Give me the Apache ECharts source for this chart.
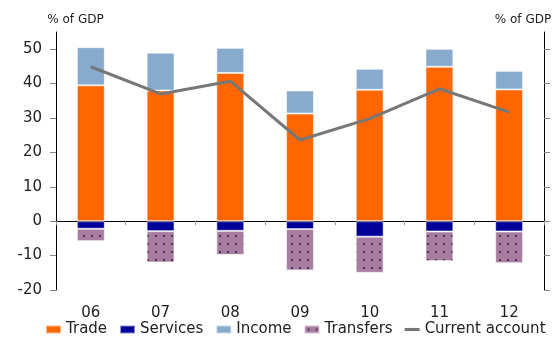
<!DOCTYPE html>
<html>
<head>
<meta charset="utf-8">
<script src="https://cdn.jsdelivr.net/npm/echarts@6/dist/echarts.min.js"></script>
<style>
  html, body { margin: 0; padding: 0; background: #fff; }
  #chart { width: 553px; height: 337px; }
</style>
</head>
<body>
<div id="chart"></div>
<script>
// current account components, % of GDP
const categories = ['06', '07', '08', '09', '10', '11', '12']
const trade = [39.5, 38.0, 43.1, 31.3, 38.2, 44.9, 38.3]
const services = [-2.2, -2.9, -2.8, -2.3, -4.5, -3.0, -3.0]
const income = [11.1, 11.0, 7.3, 6.7, 6.1, 5.2, 5.4]
const transfers = [-3.6, -9.1, -7.0, -12.0, -10.5, -8.6, -9.2]
const currentAccount = [44.9, 37.0, 40.7, 23.6, 29.8, 38.5, 31.7]
const yTicks = [-20, -10, 0, 10, 20, 30, 40, 50]

const FONT = 'DejaVu Sans'

// dotted fill for the transfers bars
function dotPattern() {
    const c = document.createElement('canvas')
    c.width = 8
    c.height = 8
    const ctx = c.getContext('2d')
    ctx.fillStyle = '#a87ca0'
    ctx.fillRect(0, 0, 8, 8)
    ctx.fillStyle = '#2b2233'
    ctx.beginPath()
    ctx.arc(4, 4, 1, 0, Math.PI * 2)
    ctx.fill()
    return c
}

const barBorder = { borderColor: 'rgba(255,255,255,0.55)', borderWidth: 1 }

function yAxis(position) {
    const left = position === 'left'
    return {
        type: 'value',
        position: position,
        min: -20,
        max: 55,
        interval: 10,
        name: '% of GDP',
        nameLocation: 'end',
        nameGap: 6,
        nameTextStyle: {
            fontFamily: FONT, fontSize: 12, color: '#222',
            padding: left ? [0, 0, 0, 39] : [0, 42, 0, 0]
        },
        axisLine: { show: true, lineStyle: { color: '#000', width: 1 } },
        axisTick: { show: true, length: 6, customValues: yTicks, lineStyle: { color: '#888' } },
        axisLabel: {
            show: left, customValues: yTicks, margin: 14,
            fontFamily: FONT, fontSize: 15, color: '#222'
        },
        splitLine: { show: false }
    }
}

const chart = echarts.init(document.getElementById('chart'))
chart.setOption({
    animation: false,
    grid: { left: 56, right: 9, top: 32, bottom: 47, containLabel: false, outerBoundsMode: 'none' },
    legend: {
        left: 45,
        top: 322,
        padding: 0,
        itemWidth: 15,
        itemHeight: 8,
        itemGap: 12,
        textStyle: { fontFamily: FONT, fontSize: 15, color: '#222' },
        data: [
            { name: 'Trade', icon: 'rect' },
            { name: 'Services', icon: 'rect' },
            { name: 'Income', icon: 'rect' },
            { name: 'Transfers', icon: 'rect' },
            { name: 'Current account', icon: 'path://M0,0H12V2.5H0Z' }
        ]
    },
    xAxis: [
        {
            // zero line with the short ticks between years
            type: 'category',
            data: categories,
            axisLine: { onZero: true, lineStyle: { color: '#000', width: 1 } },
            axisTick: { show: true, length: 4, lineStyle: { color: '#999' } },
            axisLabel: { show: false }
        },
        {
            // year labels along the bottom
            type: 'category',
            data: categories,
            position: 'bottom',
            axisLine: { show: false, onZero: false },
            axisTick: { show: false },
            axisLabel: { margin: 16, fontFamily: FONT, fontSize: 15, color: '#222' }
        }
    ],
    yAxis: [yAxis('left'), yAxis('right')],
    series: [
        { name: 'Trade', type: 'bar', stack: 'ca', barWidth: '40%', data: trade,
          itemStyle: Object.assign({ color: '#ff6600' }, barBorder) },
        { name: 'Services', type: 'bar', stack: 'ca', data: services,
          itemStyle: Object.assign({ color: '#000099' }, barBorder) },
        { name: 'Income', type: 'bar', stack: 'ca', data: income,
          itemStyle: Object.assign({ color: '#88aacc' }, barBorder) },
        { name: 'Transfers', type: 'bar', stack: 'ca', data: transfers,
          itemStyle: Object.assign({ color: { image: dotPattern(), repeat: 'repeat' } }, barBorder) },
        { name: 'Current account', type: 'line', data: currentAccount, z: 5,
          symbol: 'none', lineStyle: { color: '#777', width: 3 }, itemStyle: { color: '#777' } }
    ]
})
</script>
</body>
</html>
